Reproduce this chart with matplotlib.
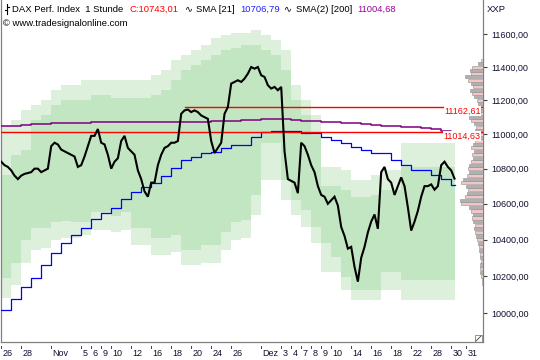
import matplotlib
matplotlib.use("Agg")
import matplotlib.pyplot as plt
import numpy as np
from matplotlib.ticker import FixedLocator, FuncFormatter, NullLocator
from matplotlib.lines import Line2D

# ---------------- data ----------------
# hourly price path sampled 3 times per trading day (index / 3 = trading day)
price = [10840, 10820, 10810, 10790, 10760, 10740, 10760, 10770, 10775, 10780,
         10800, 10800, 10780, 10790, 10800, 10930, 10950, 10940, 10910, 10900,
         10890, 10880, 10870, 10810, 10820, 10870, 10930, 10990, 10990, 11030,
         10950, 10940, 10880, 10800, 10840, 10860, 10960, 10990, 10920, 10900,
         10880, 10790, 10740, 10670, 10640, 10720, 10720, 10820, 10880, 10920,
         10930, 10950, 10950, 10960, 11120, 11140, 11145, 11130, 11140, 11130,
         11110, 11100, 11090, 10960, 10890, 10920, 10950, 11120, 11160, 11300,
         11310, 11320, 11310, 11330, 11360, 11400, 11390, 11400, 11350, 11340,
         11290, 11270, 11280, 11260, 11280, 10900, 10740, 10730, 10720, 10660,
         10950, 10930, 10880, 10820, 10780, 10700, 10650, 10640, 10600, 10620,
         10640, 10590, 10470, 10420, 10350, 10360, 10250, 10170, 10300, 10360,
         10440, 10500, 10540, 10460, 10780, 10810, 10740, 10720, 10650, 10700,
         10750, 10700, 10580, 10450, 10500, 10560, 10640, 10700, 10700, 10710,
         10680, 10700, 10820, 10840, 10810, 10790, 10743]

# daily step series (one value per trading day)
sma21 = [10018, 10075, 10140, 10192, 10259, 10325, 10380, 10426, 10463, 10513,
         10546, 10579, 10625, 10665, 10697, 10720, 10758, 10805, 10847, 10870,
         10889, 10899, 10918, 10938, 10938, 10986, 11010, 11016, 11016, 11016,
         11006, 11006, 10986, 10966, 10947, 10927, 10908, 10889, 10889, 10850,
         10822, 10793, 10793, 10764, 10740, 10707]
sma200 = [11046, 11049, 11052, 11058, 11060, 11063, 11064, 11066, 11068, 11069,
          11070, 11071, 11072, 11072, 11072, 11073, 11074, 11074, 11074, 11074,
          11074, 11075, 11076, 11078, 11082, 11084, 11087, 11088, 11088, 11084,
          11080, 11078, 11074, 11070, 11066, 11063, 11058, 11054, 11050, 11046,
          11044, 11040, 11035, 11031, 11018, 11005]
band_outer_up = [11054, 11083, 11142, 11172, 11202, 11263, 11293, 11293, 11321, 11321,
                 11321, 11321, 11321, 11321, 11321, 11351, 11382, 11443, 11474, 11505,
                 11536, 11580, 11596, 11608, 11608, 11627, 11596, 11565, 11505, 11293,
                 11202, 11113, 10810, 10810, 10793, 10735, 10735, 10764, 10793, 10793,
                 10949, 10949, 10949, 10949, 10949, 10949]
band_inner_up = [10764, 10880, 10908, 11083, 11113, 11172, 11202, 11202, 11202, 11232,
                 11232, 11214, 11214, 11214, 11214, 11232, 11263, 11321, 11382, 11412,
                 11443, 11474, 11505, 11517, 11536, 11536, 11505, 11474, 11382, 11202,
                 11113, 10996, 10701, 10701, 10678, 10638, 10638, 10650, 10678, 10678,
                 10810, 10810, 10810, 10810, 10810, 10810]
band_inner_lo = [10188, 10272, 10398, 10464, 10464, 10498, 10503, 10498, 10498, 10554,
                 10554, 10531, 10554, 10464, 10464, 10409, 10409, 10426, 10343, 10343,
                 10371, 10371, 10442, 10498, 10509, 10650, 10949, 10949, 10735, 10621,
                 10565, 10470, 10382, 10305, 10195, 10126, 10126, 10126, 10222, 10222,
                 10179, 10179, 10179, 10179, 10179, 10179]
band_outer_lo = [10082, 10152, 10272, 10343, 10354, 10398, 10409, 10409, 10426, 10453,
                 10453, 10442, 10453, 10371, 10371, 10316, 10316, 10332, 10261, 10261,
                 10272, 10272, 10343, 10398, 10409, 10537, 10735, 10735, 10621, 10537,
                 10470, 10382, 10222, 10222, 10126, 10071, 10071, 10071, 10126, 10126,
                 10071, 10071, 10071, 10071, 10071, 10071]

# horizontal levels
level_hi = 11162.61
level_lo = 11014.63

# volume profile (price bins of 20 points starting at 10160), relative volume
profile_start = 10160
profile_step = 20
profile_vol = [1, 1, 2, 3, 3, 3, 2, 3, 3, 4, 4, 5, 6, 7, 8, 9, 8, 10, 11, 10,
               12, 14, 22, 23, 18, 16, 15, 17, 22, 20, 16, 14, 15, 14, 12, 10, 11,
               9, 12, 10, 8, 7, 6, 8, 7, 9, 12, 14, 10, 8, 6, 5, 6, 9, 11, 13, 10,
               12, 15, 18, 12, 13, 11, 5, 2]

# x tick labels (trading-day index, label)
tick_days = [0, 2, 5, 8, 9, 10, 11, 13, 15, 17, 19, 21, 23, 26, 28, 29, 30, 31,
             32, 33, 35, 37, 39, 41, 43, 45, 46.45]
tick_labels = ['26', '28', 'Nov', '5', '6', '9', '10', '12', '16', '18', '20', '24',
               '26', 'Dez', '3', '4', '7', '8', '9', '10', '14', '16', '18', '22',
               '28', '30', '31']
y_ticks = [10000, 10200, 10400, 10600, 10800, 11000, 11200, 11400, 11600]

# ---------------- figure ----------------
plt.rcParams['font.family'] = ['Liberation Sans', 'DejaVu Sans']
W, H = 540, 360
fig = plt.figure(figsize=(W / 100, H / 100), dpi=100)
ax = fig.add_axes([1 / W, 18 / H, 482 / W, 342 / H])
ax.set_yscale('log')
ymin, ymax = 9848.6, 11813.8
xmin = -0.02
xmax = 48.18
ax.set_xlim(xmin, xmax)
ax.set_ylim(ymin, ymax)

data_end = 45.4
nd = len(sma21)
edges = list(range(nd)) + [data_end]


def stepify(v):
    return list(v) + [v[-1]]


light = '#dcf0dc'
mid = '#c2e6c2'
ax.fill_between(edges, stepify(band_outer_lo), stepify(band_outer_up), step='post',
                color=light, lw=0, zorder=1)
ax.fill_between(edges, stepify(band_inner_lo), stepify(band_inner_up), step='post',
                color=mid, lw=0, zorder=2)

# volume profile
bin_px = 482 / (xmax - xmin)  # px per day
for i, v in enumerate(profile_vol):
    lvl = profile_start + profile_step * i
    w = v / bin_px
    fc = '#f2c6c6' if i % 2 == 0 else '#b0b0b0'
    ax.barh(lvl, w, left=xmax - w, height=profile_step * 0.9, color=fc,
            edgecolor='#909090', linewidth=0.4, zorder=3)

# lines
ax.step(edges, stepify(sma200), where='post', color='#800080', lw=1.1, zorder=4)
ax.step(edges, stepify(sma21), where='post', color='#0000ff', lw=0.9, zorder=5)
ax.plot([18.4, xmax], [level_hi, level_hi], color='#ff0000', lw=1.0, zorder=6,
        snap=True)
ax.plot([xmin, xmax], [level_lo, level_lo], color='#ff0000', lw=1.0, zorder=6,
        snap=True)
t_price = [i / 3 for i in range(len(price))]
ax.plot(t_price, price, color='black', lw=1.5, zorder=7, solid_joinstyle='miter')

for lv in (level_hi, level_lo):
    ax.text(47.95, lv, f"{lv:.2f}".replace('.', ','), color='#ff0000', fontsize=6.5,
            ha='right', va='top', zorder=8,
            bbox=dict(facecolor='white', edgecolor='none', pad=0.3))

# axes styling
for s in ('left', 'bottom', 'right'):
    ax.spines[s].set_color('#808080')
    ax.spines[s].set_linewidth(0.9)
ax.spines['top'].set_visible(False)
ax.yaxis.tick_right()
ax.yaxis.set_major_locator(FixedLocator(y_ticks))
ax.yaxis.set_minor_locator(NullLocator())
ax.yaxis.set_major_formatter(FuncFormatter(lambda v, p: f"{v:.2f}".replace('.', ',')))
ax.tick_params(axis='y', which='major', right=True, left=False, length=3, width=0.8,
               color='#404040', pad=3, labelsize=6.5, labelcolor='#101030')
ax.set_xticks([])
trans = ax.get_xaxis_transform()
for d, lab in zip(tick_days, tick_labels):
    ax.plot([d, d], [-0.011, -0.018], transform=trans, color='#404040', lw=0.7,
            clip_on=False)
    ax.text(d + 0.15, -0.034, lab, transform=trans, fontsize=6.5, color='#101030',
            ha='left', va='center', clip_on=False)

# resize glyph bottom-right
fig.add_artist(plt.Rectangle(((475) / W, (H - 342) / H), 7 / W, 7 / H, fill=False,
                             edgecolor='#808080', lw=0.6))
fig.add_artist(Line2D([476 / W, 481 / W], [(H - 341) / H, (H - 336) / H],
                      color='#404040', lw=0.6))

# header texts
ty = 1 - 9 / H
fig.add_artist(Line2D([6.5 / W, 6.5 / W], [1 - 4 / H, 1 - 14 / H], color='black', lw=0.8))
fig.add_artist(Line2D([4.5 / W, 6.5 / W], [1 - 10 / H, 1 - 10 / H], color='black', lw=0.8))
fig.add_artist(Line2D([6.5 / W, 8.5 / W], [1 - 7 / H, 1 - 7 / H], color='black', lw=0.8))
fs = 6.8
fig.text(11.7 / W, ty, 'DAX Perf. Index  1 Stunde', fontsize=fs, color='black', va='center')
fig.text(130 / W, ty, 'C:10743,01', fontsize=fs, color='#ff0000', va='center')
fig.text(185 / W, ty, '∿', fontsize=fs, color='black', va='center',
         family=['DejaVu Sans'])
fig.text(196 / W, ty, 'SMA [21]', fontsize=fs, color='black', va='center')
fig.text(240 / W, ty, '10706,79', fontsize=fs, color='#2020ff', va='center')
fig.text(284 / W, ty, '∿', fontsize=fs, color='black', va='center',
         family=['DejaVu Sans'])
fig.text(296 / W, ty, 'SMA(2) [200]', fontsize=fs, color='black', va='center')
fig.text(357 / W, ty, '11004,68', fontsize=fs, color='#a000a0', va='center')
fig.text(3 / W, 1 - 24 / H, '© www.tradesignalonline.com', fontsize=fs, color='black',
         va='center')
fig.text(487 / W, ty, 'XXP', fontsize=fs, color='#101030', va='center')

fig.savefig('out.png', dpi=100)
